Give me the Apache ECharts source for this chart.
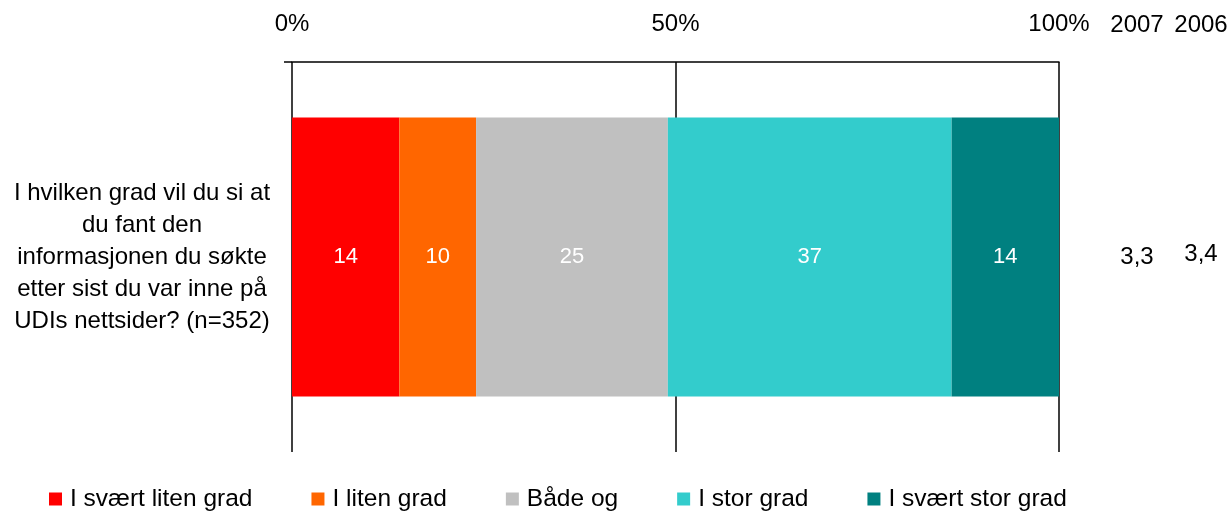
<!DOCTYPE html>
<html>
<head>
<meta charset="utf-8">
<script src="https://cdn.jsdelivr.net/npm/echarts@6/dist/echarts.min.js"></script>
<style>html,body{margin:0;padding:0;background:#fff}#c{width:1232px;height:513px}</style>
</head>
<body>
<div id="c"></div>
<script>
var categories = ['I hvilken grad vil du si at\ndu fant den\ninformasjonen du søkte\netter sist du var inne på\nUDIs nettsider? (n=352)'];
var seriesNames = ['I svært liten grad', 'I liten grad', 'Både og', 'I stor grad', 'I svært stor grad'];
var seriesValues = [[14], [10], [25], [37], [14]];
var seriesColors = ['#FF0000', '#FF6600', '#C0C0C0', '#33CCCC', '#008080'];
var xTicks = [0, 50, 100];
var avgYears = ['2007', '2006'];
var avgValues = ['3,3', '3,4'];

var FONT = '"Liberation Sans", Arial, sans-serif';
var chart = echarts.init(document.getElementById('c'), null, {renderer: 'canvas'});

var series = seriesNames.map(function (n, i) {
  return {
    name: n,
    type: 'bar',
    stack: 'total',
    barWidth: 279,
    data: seriesValues[i],
    itemStyle: {color: seriesColors[i]},
    label: {show: true, position: 'inside', color: '#fff', fontSize: 22, fontFamily: FONT},
    emphasis: {disabled: true}
  };
});

var avgX = [1137, 1201];
var graphics = [
  {type: 'line', shape: {x1: 284, y1: 62, x2: 292, y2: 62}, style: {stroke: '#000', lineWidth: 1.5}}
];
avgYears.forEach(function (t, i) {
  graphics.push({type: 'text', x: avgX[i], y: 25, style: {text: t, fill: '#000', font: '24px ' + FONT, textAlign: 'center', textVerticalAlign: 'middle'}});
});
var avgY = [257, 254];
avgValues.forEach(function (t, i) {
  graphics.push({type: 'text', x: avgX[i], y: avgY[i], style: {text: t, fill: '#000', font: '24px ' + FONT, textAlign: 'center', textVerticalAlign: 'middle'}});
});

chart.setOption({
  animation: false,
  textStyle: {fontFamily: FONT},
  grid: {left: 292, right: 173, top: 62, bottom: 61, containLabel: false},
  xAxis: {
    type: 'value', position: 'top', min: xTicks[0], max: xTicks[xTicks.length - 1], interval: 50,
    axisLine: {show: true, lineStyle: {color: '#000', width: 1.5}},
    axisTick: {show: false},
    splitLine: {show: true, lineStyle: {color: '#000', width: 1.5}},
    axisLabel: {formatter: '{value}%', fontSize: 24, color: '#000', margin: 26, fontFamily: FONT}
  },
  yAxis: {
    type: 'category', data: categories,
    axisLine: {show: false}, axisTick: {show: false},
    axisLabel: {fontSize: 24, color: '#000', lineHeight: 32, align: 'center', margin: 150, fontFamily: FONT}
  },
  legend: {
    data: seriesNames, left: 49, top: 486, padding: 0, itemWidth: 13, itemHeight: 13, itemGap: 59,
    icon: 'rect',
    textStyle: {fontSize: 24.5, lineHeight: 26, color: '#000', fontFamily: FONT, padding: [0, 0, 0, 3]}
  },
  graphic: graphics,
  series: series
});
</script>
</body>
</html>
